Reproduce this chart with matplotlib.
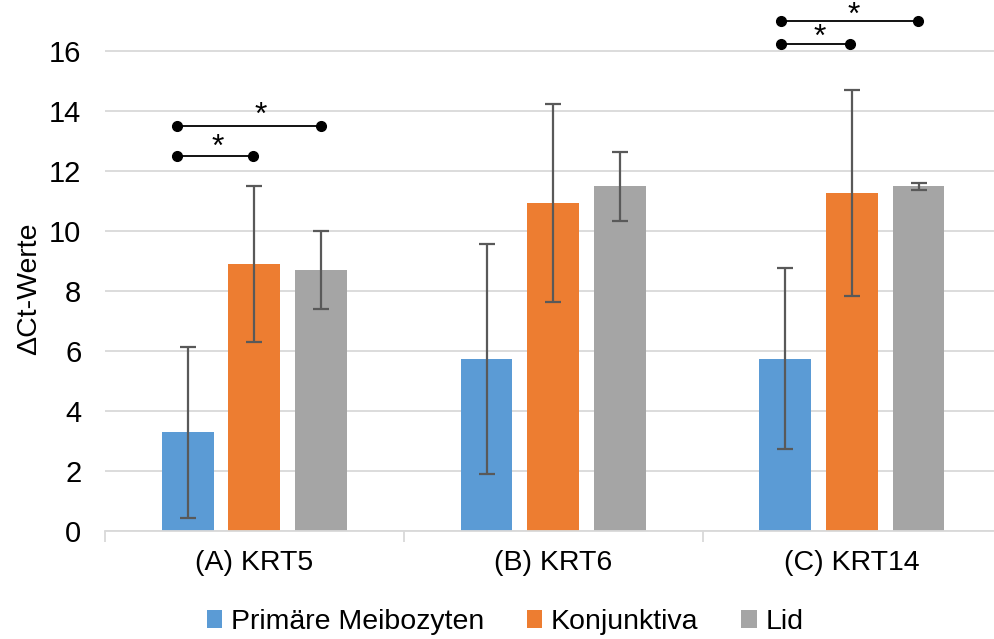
import matplotlib
matplotlib.use("Agg")
import matplotlib.pyplot as plt
import numpy as np

plt.rcParams['font.family'] = ['Liberation Sans', 'DejaVu Sans']

categories = ["(A) KRT5", "(B) KRT6", "(C) KRT14"]
series = ["Primäre Meibozyten", "Konjunktiva", "Lid"]
colors = ["#5b9bd5", "#ed7d31", "#a5a5a5"]
means = [
    [3.30, 5.72, 5.75],
    [8.90, 10.95, 11.27],
    [8.70, 11.50, 11.50],
]
err_low = [
    [0.45, 1.90, 2.73],
    [6.30, 7.62, 7.85],
    [7.40, 10.33, 11.38],
]
err_high = [
    [6.12, 9.57, 8.77],
    [11.50, 14.23, 14.70],
    [10.00, 12.65, 11.60],
]
yticks = [0, 2, 4, 6, 8, 10, 12, 14, 16]

# significance brackets: (category index, x start offset, x end offset, y, star x offset, star y)
sig = [
    (0, -0.258, -0.003, 12.5, -0.124, 12.78),
    (0, -0.258, 0.224, 13.5, 0.020, 13.83),
    (2, -0.238, -0.007, 16.23, -0.107, 16.43),
    (2, -0.238, 0.222, 17.0, 0.007, 17.18),
]

W, H = 994, 639
fig = plt.figure(figsize=(W / 100, H / 100), dpi=100)
ax = fig.add_axes([105 / W, (H - 531) / H, (W - 105) / W, 531 / H])

x = np.arange(len(categories))
offset = 0.223
width = 0.174
for i, (name, col) in enumerate(zip(series, colors)):
    m = np.array(means[i])
    lo = m - np.array(err_low[i])
    hi = np.array(err_high[i]) - m
    ax.bar(x + (i - 1) * offset, m, width, color=col, label=name, zorder=2)
    ax.errorbar(x + (i - 1) * offset, m, yerr=[lo, hi], fmt='none',
                ecolor='#595959', elinewidth=1.6, capsize=6, capthick=1.6, zorder=3)

for ci, xs, xe, yv, sx, sy in sig:
    ax.plot([ci + xs, ci + xe], [yv, yv], color='black', lw=1.3, marker='o',
            markersize=7, zorder=4, clip_on=False)
    ax.text(ci + sx, sy, '*', ha='center', va='center', fontsize=23, zorder=5)

ax.set_xlim(-0.5, 2 + (W - 852) / 298.5)
ax.set_ylim(0, 17.7)
ax.set_yticks(yticks)
ax.set_yticklabels([str(t) for t in yticks], fontsize=21)
ax.yaxis.grid(True, color='#d9d9d9', lw=1.3, zorder=0)
ax.set_axisbelow(True)
ax.tick_params(axis='y', length=0, pad=17)

ax.set_xticks(x)
ax.set_xticklabels(categories, fontsize=20.5)
ax.set_xticks([-0.5, 0.5, 1.5], minor=True)
ax.tick_params(axis='x', which='major', length=0, pad=14)
ax.tick_params(axis='x', which='minor', length=8, color='#d9d9d9', width=1.3)

for s in ['top', 'right', 'left']:
    ax.spines[s].set_visible(False)
ax.spines['bottom'].set_color('#d9d9d9')
ax.spines['bottom'].set_linewidth(1.3)

ax.set_ylabel('ΔCt-Werte', fontsize=20.5)
ax.yaxis.set_label_coords((42 - 105) / 889, (531 - 289) / 531)

fig.legend(loc='center', bbox_to_anchor=(505 / W, 1 - 622 / H), ncol=3,
           frameon=False, fontsize=20.5, handlelength=0.55, handleheight=0.55,
           handletextpad=0.3, columnspacing=1.5)

fig.savefig('out.png', dpi=100)
